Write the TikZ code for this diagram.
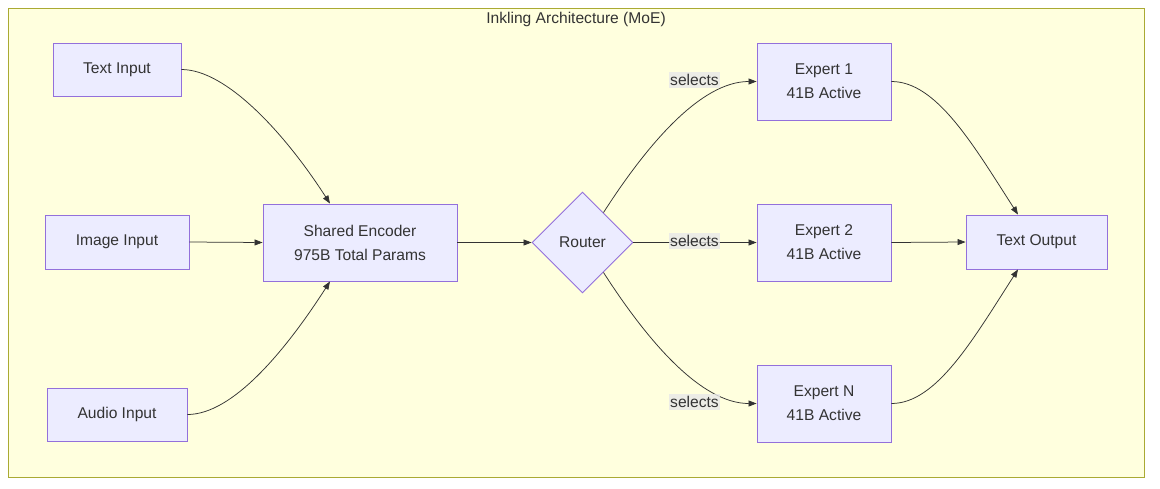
\documentclass[tikz,border=0pt]{standalone}
\usepackage{fontspec}
\setmainfont{Liberation Sans}
\usetikzlibrary{shapes.geometric,arrows.meta,calc}
\definecolor{nodefill}{HTML}{ECECFF}
\definecolor{nodeline}{HTML}{9370DB}
\definecolor{framefill}{HTML}{FFFFDE}
\definecolor{frameline}{HTML}{AAAA33}
\definecolor{txt}{HTML}{333333}
\definecolor{lblbg}{HTML}{E8E8E8}
\begin{document}
\begin{tikzpicture}[x=1pt,y=-1pt,
  font=\fontsize{15.6}{24}\selectfont,
  every node/.style={text=txt},
  box/.style={draw=nodeline,fill=nodefill,line width=0.9pt,inner sep=0pt,align=center},
  rhomb/.style={draw=nodeline,fill=nodefill,line width=0.9pt,diamond,inner sep=0pt,minimum width=101pt,minimum height=101pt},
  conn/.style={draw=txt,line width=0.75pt,-{Triangle[length=8pt,width=6pt]}},
  lbl/.style={fill=lblbg,fill opacity=0.8,text opacity=1,inner xsep=1pt,inner ysep=2.5pt}
]
\useasboundingbox (0,0) rectangle (1160,488);
\node[draw=frameline,fill=framefill,line width=1pt,minimum width=1136pt,minimum height=469pt,inner sep=0pt] (frame) at (576,242.5) {};
\node (title) at (576,19.5) {Inkling Architecture (MoE)};

\node[box,minimum width=128pt,minimum height=53pt] (ti) at (117,69.5) {Text Input};
\node[box,minimum width=144pt,minimum height=54pt] (ii) at (117,242) {Image Input};
\node[box,minimum width=140pt,minimum height=53pt] (ai) at (117,414.5) {Audio Input};
\node[box,minimum width=194pt,minimum height=77pt] (enc) at (360,242.5) {Shared Encoder\\975B Total Params};
\node[rhomb] (router) at (582.5,242.5) {Router};
\node[box,minimum width=134pt,minimum height=77pt] (e1) at (824,81.5) {Expert 1\\41B Active};
\node[box,minimum width=134pt,minimum height=77pt] (e2) at (824,242.5) {Expert 2\\41B Active};
\node[box,minimum width=134pt,minimum height=77pt] (en) at (824,403.5) {Expert N\\41B Active};
\node[box,minimum width=141pt,minimum height=54pt] (out) at (1036.5,242) {Text Output};

\coordinate (encT) at ($(enc.north)+(-30,0)$);
\coordinate (encB) at ($(enc.south)+(-30,0)$);
\coordinate (outT) at ($(out.north)+(-18.5,0)$);
\coordinate (outB) at ($(out.south)+(-18.5,0)$);

\draw[conn] (ti.east) .. controls ($(ti.east)+(45,0)$) and ($(encT)+(-45,-70)$) .. (encT);
\draw[conn] (ii.east) -- (enc.west);
\draw[conn] (ai.east) .. controls ($(ai.east)+(45,0)$) and ($(encB)+(-45,70)$) .. (encB);
\draw[conn] (enc.east) -- (router.west);

\draw[conn] (router.55) .. controls ($(router.55)+(45,-70)$) and ($(e1.west)+(-55,0)$) .. (e1.west);
\draw[conn] (router.east) -- (e2.west);
\draw[conn] (router.-55) .. controls ($(router.-55)+(45,70)$) and ($(en.west)+(-55,0)$) .. (en.west);

\node[lbl] (l1) at (694.5,80) {selects};
\node[lbl] (l2) at (694.5,241) {selects};
\node[lbl] (l3) at (694.5,402) {selects};

\draw[conn] (e1.east) .. controls ($(e1.east)+(45,0)$) and ($(outT)+(-45,-70)$) .. (outT);
\draw[conn] (e2.east) -- (out.west);
\draw[conn] (en.east) .. controls ($(en.east)+(45,0)$) and ($(outB)+(-45,70)$) .. (outB);
\end{tikzpicture}
\end{document}
